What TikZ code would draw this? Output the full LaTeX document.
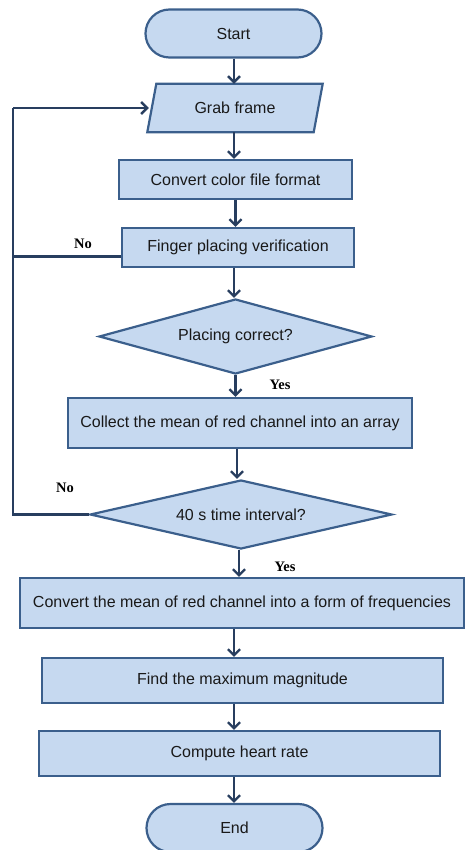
\documentclass[tikz,border=0pt]{standalone}
\usepackage{fontspec}
\setmainfont{Liberation Sans}
\newfontfamily\lblfont{Liberation Serif}
\usetikzlibrary{shapes.geometric,arrows.meta,calc}
\pgfdeclarelayer{background}
\pgfsetlayers{background,main}
\definecolor{boxfill}{RGB}{198,217,240}
\definecolor{boxline}{RGB}{59,95,140}
\definecolor{arrowc}{RGB}{40,62,95}
\definecolor{txt}{RGB}{25,25,25}
\begin{document}
\begin{tikzpicture}[x=1pt,y=-1pt,
  outline/.style={fill=boxfill,draw=boxline,line width=2.2pt},
  base/.style={outline,text=txt,font=\fontsize{16}{18}\selectfont,inner sep=0pt},
  procbox/.style={base,rectangle},
  term/.style={base,rectangle,rounded corners=24pt,minimum width=176pt,minimum height=48pt},
  io/.style={rectangle,text=txt,font=\fontsize{16}{18}\selectfont,inner sep=0pt,minimum width=166pt,minimum height=48pt},
  decision/.style={base,diamond},
  flow/.style={draw=arrowc,line width=2.4pt,-{Straight Barb[length=6pt,width=12pt,line width=2.4pt]}},
  loopline/.style={draw=arrowc,line width=2.4pt},
  lbl/.style={font=\lblfont\bfseries\fontsize{14.5}{16}\selectfont,inner sep=0pt},
]
\useasboundingbox (0,0) rectangle (465,850);

\node[term] (start) at (233.5,33.5) {Start};
\node[io] (grab) at (235,108) {Grab frame};
\begin{pgfonlayer}{background}
\draw[outline] ([xshift=4.5pt]grab.north west) -- ([xshift=4.5pt]grab.north east)
  -- ([xshift=-4.5pt]grab.south east) -- ([xshift=-4.5pt]grab.south west) -- cycle;
\end{pgfonlayer}
\node[procbox,minimum width=233pt,minimum height=39pt] (conv) at (235.5,179.5) {Convert color file format};
\node[procbox,minimum width=232pt,minimum height=39pt] (finger) at (238,247.5) {Finger placing verification};
\node[decision,shape aspect=3.64,minimum width=273pt,minimum height=75pt] (d1) at (235.5,336.5) {Placing correct?};
\node[procbox,minimum width=344pt,minimum height=50pt] (collect) at (240,423) {Collect the mean of red channel into an array};
\node[decision,shape aspect=4.38,minimum width=302pt,minimum height=69pt] (d2) at (241,514.5) {40 s time interval?};
\node[procbox,minimum width=444pt,minimum height=50pt] (convf) at (242,603) {Convert the mean of red channel into a form of frequencies};
\node[procbox,minimum width=401pt,minimum height=45pt] (find) at (242.5,680.5) {Find the maximum magnitude};
\node[procbox,minimum width=401pt,minimum height=45pt] (rate) at (239.5,753.5) {Compute heart rate};
\node[term] (end) at (234.5,828) {End};

\coordinate (axis) at (234,0);
\coordinate (lx) at (13,0);

\draw[flow] (start.south -| axis) -- (grab.north -| axis);
\draw[flow] (grab.south -| axis) -- (conv.north -| axis);
\draw[flow] (conv.south) -- (conv.south |- finger.north);
\draw[flow] (finger.south -| axis) -- (d1.north -| axis);
\draw[flow] (d1.south) -- (d1.south |- collect.north);
\draw[flow] ([xshift=-3pt]collect.south) -- ([xshift=-3pt]collect.south |- d2.north);
\draw[flow] ([xshift=-2pt]d2.south) -- ([xshift=-2pt]d2.south |- convf.north);
\draw[flow] (convf.south -| axis) -- (find.north -| axis);
\draw[flow] (find.south -| axis) -- (rate.north -| axis);
\draw[flow] (rate.south -| axis) -- (end.north -| axis);

\draw[loopline] ([yshift=-9pt]finger.west) -- ([yshift=-9pt]finger.west -| lx);
\draw[loopline] (d2.west) -- (d2.west -| lx) -- (lx |- grab.west);
\draw[flow,shorten >=3pt] (lx |- grab.west) -- (grab.west);

\node[lbl] (no1) at (83,244) {No};
\node[lbl] (no2) at (65,488) {No};
\node[lbl] (yes1) at (280,385) {Yes};
\node[lbl] (yes2) at (285,567) {Yes};
\end{tikzpicture}
\end{document}
